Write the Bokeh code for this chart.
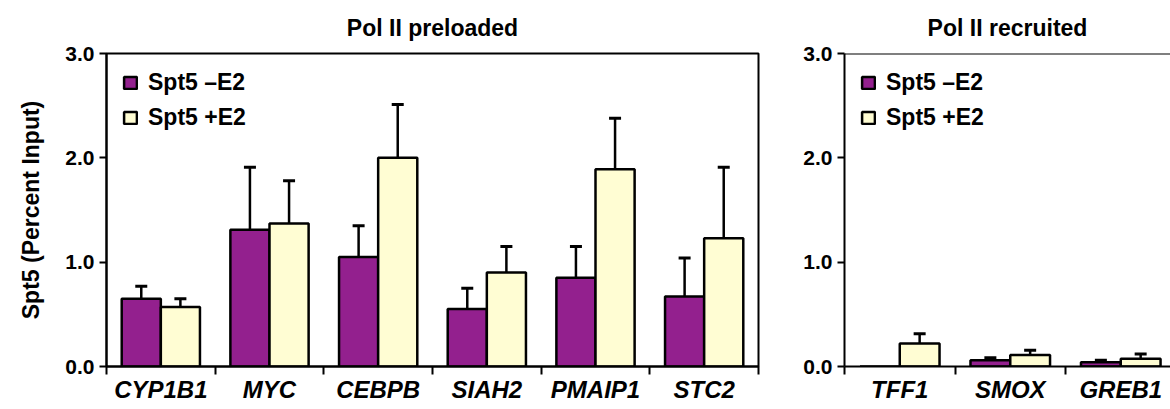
from bokeh.plotting import figure
from bokeh.models import (Range1d, FixedTicker, Whisker, TeeHead, ColumnDataSource,
                          Legend, LegendItem, Span)
from bokeh.layouts import row
from bokeh.embed import file_html
from bokeh.resources import INLINE

# ---------------- data ----------------
left_genes = ["CYP1B1", "MYC", "CEBPB", "SIAH2", "PMAIP1", "STC2"]
left_minus = [0.65, 1.31, 1.05, 0.55, 0.85, 0.67]
left_minus_err = [0.12, 0.60, 0.30, 0.20, 0.30, 0.37]
left_plus = [0.57, 1.37, 2.00, 0.90, 1.89, 1.23]
left_plus_err = [0.08, 0.41, 0.51, 0.25, 0.49, 0.68]

right_genes = ["TFF1", "SMOX", "GREB1"]
right_minus = [0.0, 0.06, 0.04]
right_minus_err = [0.0, 0.025, 0.02]
right_plus = [0.22, 0.11, 0.075]
right_plus_err = [0.095, 0.045, 0.045]

series_labels = ["Spt5 \u2013E2", "Spt5 +E2"]
titles = ["Pol II preloaded", "Pol II recruited"]
y_label = "Spt5 (Percent Input)"
y_ticks = [0, 1, 2, 3]
y_tick_labels = ["0.0", "1.0", "2.0", "3.0"]

PURPLE = "#93208E"
YELLOW = "#FFFDD3"
FONT = "Liberation Sans"
OFF = 0.18
BW = 0.36


def make_panel(genes, minus, minus_err, plus, plus_err, title, width, x_end,
               border_left, border_right, show_ylabel, outline):
    n = len(genes)
    p = figure(width=width, height=409, output_backend="svg", toolbar_location=None,
               x_range=Range1d(0, x_end), y_range=Range1d(0, 3),
               min_border_left=border_left, min_border_right=border_right,
               min_border_top=52, min_border_bottom=43,
               background_fill_color="white", border_fill_color="white")
    p.xgrid.visible = False
    p.ygrid.visible = False
    if outline:
        p.outline_line_color = "black"
        p.outline_line_width = 2
    else:
        p.outline_line_color = None
        p.add_layout(Span(location=3, dimension="width", line_color="black", line_width=2))

    p.title.text = title
    p.title.align = "center"
    p.title.text_font = FONT
    p.title.text_font_size = "23px"
    p.title.text_font_style = "bold"
    p.title.text_color = "black"
    p.title.standoff = 25

    xm = [i + 0.5 - OFF for i in range(n)]
    xp = [i + 0.5 + OFF for i in range(n)]
    src_m = ColumnDataSource(dict(x=xm, top=minus))
    src_p = ColumnDataSource(dict(x=xp, top=plus))
    r1 = p.vbar(x="x", top="top", width=BW, source=src_m, fill_color=PURPLE,
                line_color="black", line_width=2.5)
    r2 = p.vbar(x="x", top="top", width=BW, source=src_p, fill_color=YELLOW,
                line_color="black", line_width=2.5)

    ex, lo, up = [], [], []
    for xs, vals, errs in ((xm, minus, minus_err), (xp, plus, plus_err)):
        for x, v, e in zip(xs, vals, errs):
            if e > 0:
                ex.append(x)
                lo.append(v)
                up.append(v + e)
    esrc = ColumnDataSource(dict(x=ex, lower=lo, upper=up))
    w = Whisker(source=esrc, base="x", lower="lower", upper="upper", dimension="height",
                line_color="black", line_width=2.5, lower_head=None,
                upper_head=TeeHead(size=12, line_color="black", line_width=3),
                level="glyph")
    p.add_layout(w)

    # x axis: labels at centres, ticks at boundaries (minor)
    xa = p.xaxis[0]
    xa.ticker = FixedTicker(ticks=[i + 0.5 for i in range(n)],
                            minor_ticks=[float(i) for i in range(n + 1)])
    xa.major_label_overrides = {i + 0.5: g for i, g in enumerate(genes)}
    xa.major_tick_line_color = None
    xa.major_tick_out = 8
    xa.major_tick_in = 0
    xa.minor_tick_out = 8
    xa.minor_tick_in = 0
    xa.minor_tick_line_color = "black"
    xa.minor_tick_line_width = 2
    xa.axis_line_color = "black"
    xa.axis_line_width = 2
    xa.major_label_text_font = FONT
    xa.major_label_text_font_size = "24px"
    xa.major_label_text_font_style = "bold italic"
    xa.major_label_text_color = "black"
    xa.major_label_standoff = 1

    ya = p.yaxis[0]
    ya.ticker = FixedTicker(ticks=y_ticks, minor_ticks=[])
    ya.major_label_overrides = {t: s for t, s in zip(y_ticks, y_tick_labels)}
    ya.major_tick_out = 7
    ya.major_tick_in = 0
    ya.major_tick_line_width = 2
    ya.major_tick_line_color = "black"
    ya.axis_line_color = "black"
    ya.axis_line_width = 2
    ya.major_label_text_font = FONT
    ya.major_label_text_font_size = "21px"
    ya.major_label_text_font_style = "bold"
    ya.major_label_text_color = "black"
    ya.major_label_standoff = 5
    if show_ylabel:
        ya.axis_label = y_label
        ya.axis_label_text_font = FONT
        ya.axis_label_text_font_size = "23px"
        ya.axis_label_text_font_style = "bold"
        ya.axis_label_text_color = "black"
        ya.axis_label_standoff = 18

    legend = Legend(items=[LegendItem(label=series_labels[0], renderers=[r1]),
                           LegendItem(label=series_labels[1], renderers=[r2])],
                    location="top_left", border_line_color=None,
                    background_fill_alpha=0, label_text_font=FONT,
                    label_text_font_size="23px", label_text_font_style="bold",
                    label_text_color="black",
                    glyph_width=16, glyph_height=15, label_standoff=10,
                    spacing=8, padding=0, margin=16)
    p.add_layout(legend)
    return p


p1 = make_panel(left_genes, left_minus, left_minus_err, left_plus, left_plus_err,
                titles[0], 790, 6, 106, 32, True, True)
p2 = make_panel(right_genes, right_minus, right_minus_err, right_plus, right_plus_err,
                titles[1], 380, 2.95, 54, 0, False, False)

layout = row(p1, p2)
open("out.html", "w").write(file_html(layout, INLINE))
